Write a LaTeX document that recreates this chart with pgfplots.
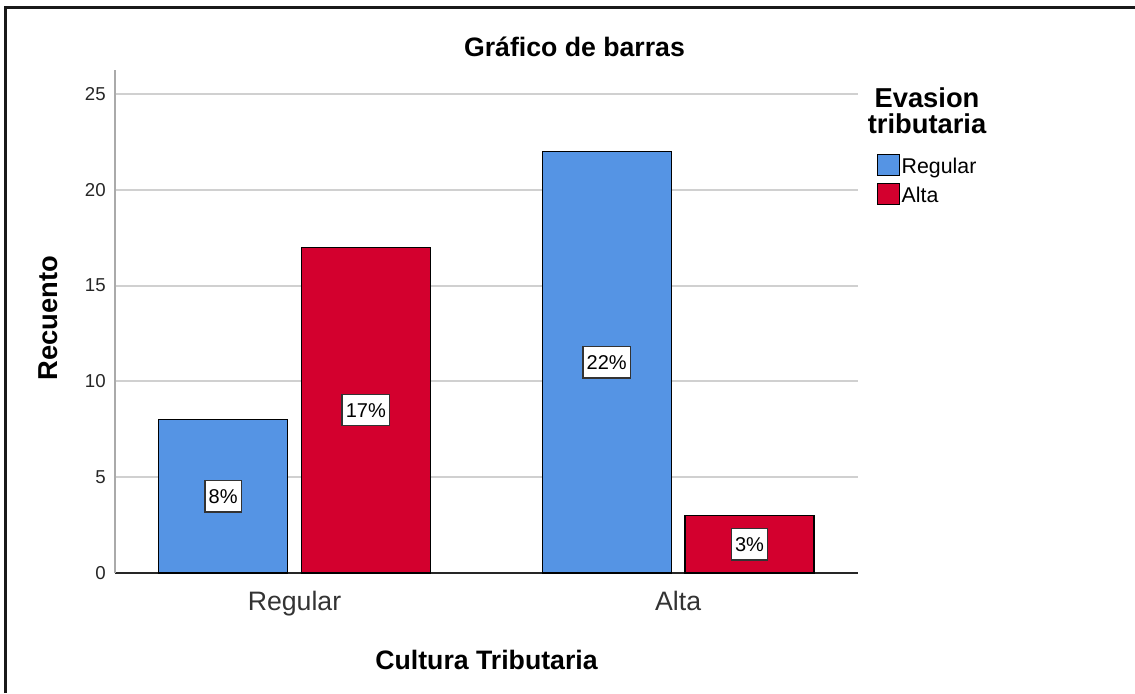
\documentclass[border=0pt]{standalone}
\usepackage{pgfplots}
\pgfplotsset{compat=1.18}
\usepackage{fontspec}
\setmainfont{Liberation Sans}
\definecolor{spssblue}{RGB}{85,148,228}
\definecolor{spssred}{RGB}{211,0,46}
\definecolor{gridgray}{RGB}{208,208,208}
\definecolor{yaxisgray}{RGB}{170,170,170}
\begin{document}
\begin{tikzpicture}
\useasboundingbox (-86.25pt,-90pt) rectangle (765pt,429.75pt);
\begin{axis}[
  at={(0pt,0pt)}, anchor=south west,
  scale only axis, width=557.25pt, height=377.25pt,
  xmin=-0.468, xmax=1.469, ymin=0, ymax=26.25,
  axis x line*=bottom, axis y line*=left,
  x axis line style={draw=black!85, line width=1pt},
  y axis line style={draw=yaxisgray, line width=1.6pt},
  ytick={0,5,10,15,20,25},
  xtick={0,1}, xticklabels={Regular,Alta},
  major tick length=0pt,
  ymajorgrids, grid style={gridgray, line width=1.6pt},
  /pgf/number format/assume math mode=true,
  yticklabel style={anchor=east, inner sep=0pt, xshift=-6.75pt, font=\fontsize{14}{16}\selectfont, text=black!85},
  xticklabel style={anchor=base, yshift=-27.75pt, font=\fontsize{20}{24}\selectfont, text=black!80},
  xlabel={Cultura Tributaria},
  xlabel style={at={(axis description cs:0.5,0)}, anchor=center, yshift=-65.25pt, font=\fontsize{20}{24}\selectfont\bfseries},
  ylabel={Recuento},
  ylabel style={at={(axis description cs:-0.0902,0.507)}, anchor=center, font=\fontsize{20.5}{24}\selectfont\bfseries},
  bar width=0.336,
  legend style={at={(1.0256,0.834)}, anchor=north west, draw=none, fill=none, inner sep=0pt, row sep=4pt, font=\fontsize{16}{19}\selectfont, nodes={inner sep=1.5pt}},
  legend cell align=left,
  legend image code/.code={\draw[#1, line width=0.8pt] (0pt,-6.5pt) rectangle (16pt,9.5pt);},
  clip=false,
]
\addplot[ybar, bar shift=-0.186, fill=spssblue, draw=black, line width=1pt] coordinates {(0,8) (1,22)};
\addlegendentry{Regular}
\addplot[ybar, bar shift=0.186, fill=spssred, draw=black, line width=1pt] coordinates {(0,17) (1,3)};
\addlegendentry{Alta}
\addplot[draw=none, mark=none, forget plot,
  point meta=explicit symbolic, nodes near coords,
  every node near coord/.append style={anchor=center, fill=white, draw=black!80, line width=1pt, inner xsep=2.8pt, inner ysep=0pt, minimum height=23.5pt, font=\fontsize{15}{17}\selectfont, text=black}]
  coordinates {(-0.186,4)[8\%] (0.186,8.5)[17\%] (0.814,11)[22\%] (1.186,1.5)[3\%]};
\end{axis}
\node[font=\fontsize{20}{24}\selectfont\bfseries] at (344.6pt,394.5pt) {Gráfico de barras};
\node[align=center, font=\fontsize{20.5}{19.5}\selectfont\bfseries] at (609pt,347pt) {Evasion\\tributaria};
\draw[line width=2.25pt, black!90] (-81.75pt,-90pt) -- (-81.75pt,423.75pt) -- (765pt,423.75pt);
\end{tikzpicture}
\end{document}
